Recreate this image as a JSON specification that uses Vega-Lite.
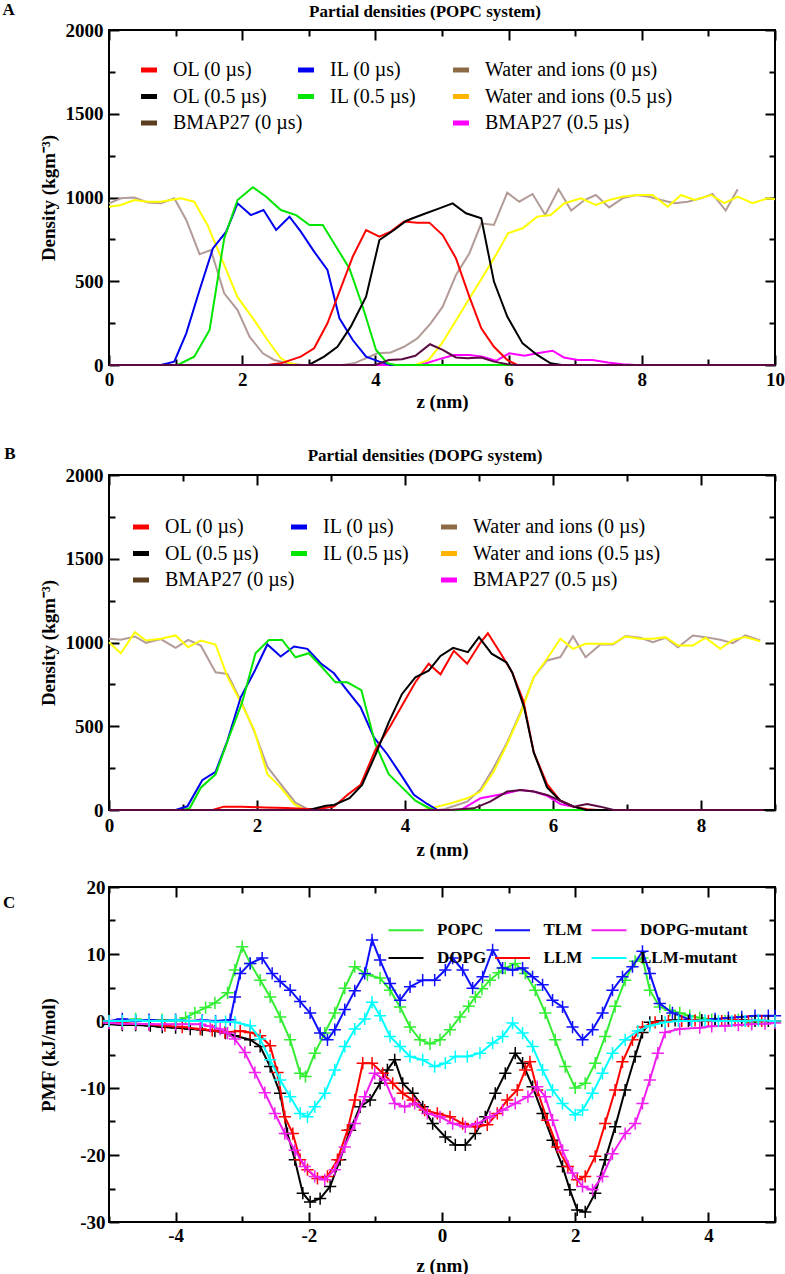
{
"$schema": "https://vega.github.io/schema/vega-lite/v6.json",
"background": "white",
"padding": {"left": 2, "top": 1, "right": 8, "bottom": 0},
"config": {
  "font": "Liberation Serif",
  "view": {"stroke": "black", "strokeWidth": 2},
  "axis": {"domain": false, "grid": false, "labelOverlap": false, "labelFlush": false, "labelFont": "Liberation Serif", "labelFontSize": 19, "labelFontWeight": "bold", "labelColor": "black", "titleFont": "Liberation Serif", "titleFontSize": 19, "titleFontWeight": "bold", "titleColor": "black", "tickColor": "black", "tickWidth": 2},
  "title": {"font": "Liberation Serif", "fontSize": 17, "fontWeight": "bold", "color": "black"},
  "legend": {"labelFont": "Liberation Serif", "labelColor": "black", "labelLimit": 400, "padding": 0, "title": null}
},
"datasets": {
"A_OL0": [{"z":0,"v":0},{"z":2.38,"v":0},{"z":2.58,"v":10},{"z":2.88,"v":50},{"z":3.08,"v":100},{"z":3.28,"v":249},{"z":3.46,"v":438},{"z":3.66,"v":647},{"z":3.86,"v":806},{"z":4.06,"v":766},{"z":4.23,"v":796},{"z":4.43,"v":856},{"z":4.63,"v":850},{"z":4.81,"v":850},{"z":5.01,"v":776},{"z":5.21,"v":637},{"z":5.41,"v":408},{"z":5.59,"v":219},{"z":5.78,"v":109},{"z":5.98,"v":30},{"z":6.13,"v":0},{"z":10,"v":0}],
"A_OL05": [{"z":0,"v":0},{"z":3.0,"v":0},{"z":3.23,"v":50},{"z":3.43,"v":109},{"z":3.63,"v":229},{"z":3.86,"v":408},{"z":4.06,"v":746},{"z":4.28,"v":806},{"z":4.46,"v":860},{"z":4.56,"v":876},{"z":4.76,"v":906},{"z":4.96,"v":935},{"z":5.16,"v":965},{"z":5.36,"v":906},{"z":5.59,"v":876},{"z":5.78,"v":498},{"z":5.98,"v":289},{"z":6.21,"v":129},{"z":6.43,"v":60},{"z":6.63,"v":10},{"z":6.8,"v":0},{"z":10,"v":0}],
"A_BM0": [{"z":0,"v":0},{"z":4.0,"v":0},{"z":4.2,"v":30},{"z":4.4,"v":35},{"z":4.6,"v":55},{"z":4.82,"v":124},{"z":5.01,"v":90},{"z":5.21,"v":45},{"z":5.38,"v":40},{"z":5.59,"v":45},{"z":5.78,"v":20},{"z":5.98,"v":5},{"z":6.1,"v":0},{"z":10,"v":0}],
"A_IL0": [{"z":0,"v":0},{"z":0.78,"v":0},{"z":0.98,"v":20},{"z":1.16,"v":189},{"z":1.36,"v":448},{"z":1.56,"v":696},{"z":1.76,"v":796},{"z":1.93,"v":965},{"z":2.13,"v":895},{"z":2.32,"v":925},{"z":2.51,"v":806},{"z":2.71,"v":885},{"z":2.88,"v":796},{"z":3.08,"v":677},{"z":3.28,"v":567},{"z":3.46,"v":279},{"z":3.66,"v":149},{"z":3.86,"v":50},{"z":4.06,"v":20},{"z":4.23,"v":0},{"z":10,"v":0}],
"A_IL05": [{"z":0,"v":0},{"z":1.03,"v":0},{"z":1.28,"v":50},{"z":1.51,"v":209},{"z":1.73,"v":756},{"z":1.93,"v":985},{"z":2.16,"v":1061},{"z":2.36,"v":1005},{"z":2.58,"v":925},{"z":2.81,"v":895},{"z":3.01,"v":836},{"z":3.21,"v":836},{"z":3.41,"v":706},{"z":3.61,"v":577},{"z":3.81,"v":348},{"z":4.01,"v":90},{"z":4.18,"v":10},{"z":4.3,"v":0},{"z":10,"v":0}],
"A_W0": [{"z":0,"v":965},{"z":0.18,"v":995},{"z":0.38,"v":1000},{"z":0.58,"v":970},{"z":0.78,"v":965},{"z":0.98,"v":995},{"z":1.16,"v":866},{"z":1.36,"v":662},{"z":1.53,"v":686},{"z":1.73,"v":428},{"z":1.93,"v":328},{"z":2.11,"v":169},{"z":2.31,"v":70},{"z":2.48,"v":30},{"z":2.68,"v":10},{"z":2.9,"v":0},{"z":3.5,"v":0},{"z":3.68,"v":10},{"z":4.03,"v":70},{"z":4.23,"v":75},{"z":4.43,"v":109},{"z":4.63,"v":159},{"z":4.83,"v":249},{"z":5.01,"v":348},{"z":5.21,"v":537},{"z":5.41,"v":666},{"z":5.59,"v":846},{"z":5.78,"v":836},{"z":5.98,"v":1029},{"z":6.16,"v":975},{"z":6.36,"v":1021},{"z":6.55,"v":896},{"z":6.75,"v":1049},{"z":6.94,"v":922},{"z":7.14,"v":985},{"z":7.31,"v":1015},{"z":7.51,"v":941},{"z":7.71,"v":995},{"z":7.91,"v":1015},{"z":8.11,"v":1005},{"z":8.29,"v":985},{"z":8.49,"v":966},{"z":8.69,"v":975},{"z":8.89,"v":995},{"z":9.06,"v":1021},{"z":9.26,"v":922},{"z":9.44,"v":1049}],
"A_W05": [{"z":0,"v":945},{"z":0.18,"v":955},{"z":0.38,"v":985},{"z":0.58,"v":975},{"z":0.78,"v":975},{"z":1.08,"v":995},{"z":1.28,"v":975},{"z":1.48,"v":835},{"z":1.68,"v":645},{"z":1.93,"v":405},{"z":2.18,"v":268},{"z":2.38,"v":149},{"z":2.58,"v":40},{"z":2.71,"v":10},{"z":2.85,"v":0},{"z":4.6,"v":0},{"z":4.8,"v":30},{"z":5.0,"v":130},{"z":5.2,"v":260},{"z":5.4,"v":390},{"z":5.6,"v":520},{"z":5.8,"v":650},{"z":5.99,"v":786},{"z":6.21,"v":816},{"z":6.43,"v":886},{"z":6.63,"v":896},{"z":6.84,"v":966},{"z":7.09,"v":995},{"z":7.31,"v":955},{"z":7.51,"v":985},{"z":7.71,"v":1005},{"z":7.93,"v":1015},{"z":8.16,"v":1015},{"z":8.39,"v":945},{"z":8.59,"v":1015},{"z":8.79,"v":985},{"z":9.04,"v":1015},{"z":9.24,"v":966},{"z":9.44,"v":1005},{"z":9.66,"v":966},{"z":9.89,"v":995},{"z":10,"v":990}],
"A_BM05": [{"z":0,"v":0},{"z":4.68,"v":0},{"z":4.96,"v":35},{"z":5.18,"v":60},{"z":5.41,"v":60},{"z":5.61,"v":50},{"z":5.81,"v":25},{"z":6.01,"v":70},{"z":6.24,"v":55},{"z":6.43,"v":70},{"z":6.66,"v":85},{"z":6.83,"v":45},{"z":7.04,"v":30},{"z":7.26,"v":30},{"z":7.49,"v":15},{"z":7.71,"v":5},{"z":7.9,"v":0},{"z":10,"v":0}],
"B_OL0": [{"z":0,"v":0},{"z":1.4,"v":0},{"z":1.55,"v":20},{"z":1.8,"v":20},{"z":2.1,"v":15},{"z":2.4,"v":12},{"z":2.6,"v":8},{"z":2.8,"v":5},{"z":2.95,"v":15},{"z":3.04,"v":20},{"z":3.22,"v":90},{"z":3.4,"v":150},{"z":3.6,"v":360},{"z":3.8,"v":500},{"z":3.96,"v":624},{"z":4.14,"v":763},{"z":4.32,"v":873},{"z":4.48,"v":810},{"z":4.66,"v":950},{"z":4.84,"v":873},{"z":5.02,"v":1000},{"z":5.12,"v":1055},{"z":5.3,"v":930},{"z":5.45,"v":820},{"z":5.6,"v":650},{"z":5.74,"v":344},{"z":5.92,"v":154},{"z":6.1,"v":55},{"z":6.28,"v":20},{"z":6.46,"v":5},{"z":6.6,"v":0},{"z":8.85,"v":0}],
"B_OL05": [{"z":0,"v":0},{"z":2.7,"v":0},{"z":2.93,"v":25},{"z":3.04,"v":30},{"z":3.25,"v":70},{"z":3.42,"v":150},{"z":3.6,"v":329},{"z":3.78,"v":523},{"z":3.96,"v":693},{"z":4.14,"v":792},{"z":4.32,"v":832},{"z":4.48,"v":920},{"z":4.65,"v":968},{"z":4.85,"v":942},{"z":5.0,"v":1032},{"z":5.17,"v":933},{"z":5.37,"v":882},{"z":5.45,"v":820},{"z":5.61,"v":613},{"z":5.74,"v":344},{"z":5.92,"v":135},{"z":6.1,"v":55},{"z":6.28,"v":20},{"z":6.45,"v":0},{"z":8.85,"v":0}],
"B_BM0": [{"z":0,"v":0},{"z":4.6,"v":0},{"z":4.93,"v":10},{"z":5.15,"v":50},{"z":5.38,"v":110},{"z":5.56,"v":120},{"z":5.74,"v":110},{"z":5.92,"v":90},{"z":6.1,"v":55},{"z":6.28,"v":20},{"z":6.46,"v":35},{"z":6.64,"v":20},{"z":6.82,"v":0},{"z":8.85,"v":0}],
"B_IL0": [{"z":0,"v":0},{"z":0.9,"v":0},{"z":1.06,"v":22},{"z":1.26,"v":178},{"z":1.44,"v":228},{"z":1.6,"v":413},{"z":1.78,"v":673},{"z":1.96,"v":822},{"z":2.14,"v":988},{"z":2.32,"v":916},{"z":2.5,"v":976},{"z":2.68,"v":962},{"z":2.86,"v":876},{"z":3.04,"v":816},{"z":3.22,"v":713},{"z":3.4,"v":613},{"z":3.58,"v":433},{"z":3.76,"v":333},{"z":3.94,"v":214},{"z":4.12,"v":91},{"z":4.3,"v":36},{"z":4.44,"v":0},{"z":8.85,"v":0}],
"B_IL05": [{"z":0,"v":0},{"z":1.0,"v":0},{"z":1.09,"v":10},{"z":1.24,"v":133},{"z":1.44,"v":213},{"z":1.62,"v":433},{"z":1.8,"v":643},{"z":1.98,"v":936},{"z":2.16,"v":1015},{"z":2.34,"v":1015},{"z":2.52,"v":912},{"z":2.7,"v":936},{"z":2.88,"v":852},{"z":3.06,"v":762},{"z":3.22,"v":762},{"z":3.41,"v":716},{"z":3.6,"v":393},{"z":3.78,"v":214},{"z":3.96,"v":135},{"z":4.14,"v":56},{"z":4.32,"v":12},{"z":4.4,"v":0},{"z":8.85,"v":0}],
"B_W0": [{"z":0,"v":1022},{"z":0.16,"v":1016},{"z":0.35,"v":1036},{"z":0.5,"v":998},{"z":0.7,"v":1020},{"z":0.9,"v":968},{"z":1.07,"v":1016},{"z":1.24,"v":982},{"z":1.44,"v":822},{"z":1.6,"v":812},{"z":1.78,"v":653},{"z":1.96,"v":473},{"z":2.14,"v":258},{"z":2.34,"v":144},{"z":2.52,"v":44},{"z":2.68,"v":6},{"z":2.8,"v":0},{"z":4.45,"v":0},{"z":4.53,"v":5},{"z":4.84,"v":50},{"z":5.02,"v":122},{"z":5.2,"v":254},{"z":5.38,"v":403},{"z":5.56,"v":583},{"z":5.74,"v":793},{"z":5.92,"v":893},{"z":6.1,"v":913},{"z":6.27,"v":1038},{"z":6.44,"v":912},{"z":6.64,"v":988},{"z":6.81,"v":988},{"z":6.98,"v":1038},{"z":7.18,"v":1028},{"z":7.35,"v":1002},{"z":7.52,"v":1028},{"z":7.69,"v":972},{"z":7.89,"v":1042},{"z":8.06,"v":1032},{"z":8.26,"v":1016},{"z":8.43,"v":996},{"z":8.6,"v":1042},{"z":8.8,"v":1012}],
"B_W05": [{"z":0,"v":1002},{"z":0.16,"v":936},{"z":0.35,"v":1062},{"z":0.5,"v":1012},{"z":0.7,"v":1022},{"z":0.9,"v":1042},{"z":1.07,"v":972},{"z":1.24,"v":1012},{"z":1.44,"v":988},{"z":1.6,"v":796},{"z":1.78,"v":643},{"z":1.96,"v":480},{"z":2.14,"v":214},{"z":2.32,"v":135},{"z":2.5,"v":36},{"z":2.64,"v":0},{"z":4.25,"v":0},{"z":4.44,"v":20},{"z":4.62,"v":40},{"z":4.84,"v":70},{"z":5.02,"v":110},{"z":5.2,"v":230},{"z":5.38,"v":393},{"z":5.56,"v":573},{"z":5.74,"v":793},{"z":5.92,"v":903},{"z":6.1,"v":1022},{"z":6.27,"v":962},{"z":6.44,"v":992},{"z":6.64,"v":992},{"z":6.81,"v":992},{"z":6.98,"v":1036},{"z":7.18,"v":1022},{"z":7.35,"v":1022},{"z":7.52,"v":1032},{"z":7.69,"v":982},{"z":7.89,"v":982},{"z":8.06,"v":1028},{"z":8.26,"v":962},{"z":8.43,"v":1016},{"z":8.6,"v":1032},{"z":8.8,"v":1008}],
"B_BM05": [{"z":0,"v":0},{"z":4.75,"v":0},{"z":5.02,"v":70},{"z":5.2,"v":85},{"z":5.38,"v":100},{"z":5.56,"v":120},{"z":5.74,"v":110},{"z":5.92,"v":85},{"z":6.1,"v":35},{"z":6.28,"v":20},{"z":6.46,"v":0},{"z":8.85,"v":0}],
"C_POPC": [{"z":-5,"v":0},{"z":-4.8,"v":-0.3},{"z":-4.6,"v":0.3},{"z":-4.4,"v":0},{"z":-4.2,"v":0.2},{"z":-4.0,"v":0},{"z":-3.85,"v":0.5},{"z":-3.71,"v":1.2},{"z":-3.55,"v":2},{"z":-3.41,"v":2.7},{"z":-3.22,"v":4.2},{"z":-3.11,"v":7.6},{"z":-3.0,"v":11.1},{"z":-2.88,"v":8.6},{"z":-2.73,"v":6.1},{"z":-2.58,"v":3.6},{"z":-2.43,"v":0.6},{"z":-2.28,"v":-2.8},{"z":-2.13,"v":-7.8},{"z":-2.05,"v":-8.3},{"z":-1.91,"v":-4.8},{"z":-1.76,"v":-1.8},{"z":-1.61,"v":1.2},{"z":-1.46,"v":4.9},{"z":-1.31,"v":8.1},{"z":-1.12,"v":6.9},{"z":-0.93,"v":6.4},{"z":-0.78,"v":4.6},{"z":-0.63,"v":2.1},{"z":-0.48,"v":-0.9},{"z":-0.33,"v":-2.8},{"z":-0.18,"v":-3.4},{"z":-0.03,"v":-2.8},{"z":0.12,"v":-1.3},{"z":0.27,"v":0.6},{"z":0.4,"v":2.2},{"z":0.5,"v":3.6},{"z":0.6,"v":4.8},{"z":0.72,"v":6.1},{"z":0.85,"v":7.2},{"z":0.95,"v":7.9},{"z":1.1,"v":8.6},{"z":1.25,"v":7.1},{"z":1.4,"v":4.6},{"z":1.55,"v":1.2},{"z":1.7,"v":-2.8},{"z":1.85,"v":-6.8},{"z":2.0,"v":-10.0},{"z":2.15,"v":-9.3},{"z":2.3,"v":-6.3},{"z":2.45,"v":-2.3},{"z":2.6,"v":2.2},{"z":2.75,"v":6.1},{"z":2.9,"v":8.9},{"z":3.01,"v":9.4},{"z":3.12,"v":4.6},{"z":3.27,"v":2.1},{"z":3.42,"v":1.6},{"z":3.57,"v":1.2},{"z":3.72,"v":0.8},{"z":3.87,"v":0.5},{"z":4.05,"v":0.2},{"z":4.25,"v":0},{"z":4.45,"v":0.2},{"z":4.65,"v":-0.3},{"z":4.85,"v":0},{"z":5,"v":-0.2}],
"C_TLM": [{"z":-5,"v":0},{"z":-4.8,"v":0.3},{"z":-4.6,"v":0},{"z":-4.4,"v":0.2},{"z":-4.2,"v":0},{"z":-4.0,"v":0.2},{"z":-3.8,"v":0},{"z":-3.6,"v":0.1},{"z":-3.4,"v":0},{"z":-3.18,"v":0.2},{"z":-3.11,"v":3.6},{"z":-3.03,"v":7.1},{"z":-2.88,"v":8.6},{"z":-2.7,"v":9.4},{"z":-2.55,"v":7.1},{"z":-2.43,"v":5.9},{"z":-2.28,"v":4.6},{"z":-2.13,"v":2.9},{"z":-1.98,"v":1.2},{"z":-1.83,"v":-1.8},{"z":-1.72,"v":-2.8},{"z":-1.61,"v":-1.3},{"z":-1.46,"v":1.7},{"z":-1.31,"v":4.5},{"z":-1.16,"v":7.1},{"z":-1.05,"v":12.1},{"z":-0.93,"v":9.1},{"z":-0.78,"v":5.6},{"z":-0.63,"v":3.1},{"z":-0.48,"v":5.1},{"z":-0.29,"v":6.1},{"z":-0.11,"v":6.1},{"z":0.05,"v":7.6},{"z":0.16,"v":9.4},{"z":0.31,"v":7.6},{"z":0.46,"v":4.9},{"z":0.61,"v":6.6},{"z":0.76,"v":10.6},{"z":0.91,"v":7.9},{"z":1.06,"v":7.6},{"z":1.21,"v":7.9},{"z":1.36,"v":6.6},{"z":1.51,"v":5.4},{"z":1.66,"v":3.1},{"z":1.81,"v":2.1},{"z":1.96,"v":-0.9},{"z":2.11,"v":-2.8},{"z":2.26,"v":-1.3},{"z":2.41,"v":1.2},{"z":2.56,"v":4.6},{"z":2.71,"v":6.6},{"z":2.86,"v":8.1},{"z":3.01,"v":10.4},{"z":3.12,"v":7.1},{"z":3.27,"v":2.6},{"z":3.46,"v":1.2},{"z":3.72,"v":0.2},{"z":3.9,"v":0.1},{"z":4.1,"v":0.3},{"z":4.3,"v":0.5},{"z":4.5,"v":0.6},{"z":4.7,"v":0.8},{"z":4.9,"v":0.8},{"z":5,"v":0.8}],
"C_DOPG": [{"z":-5,"v":-0.5},{"z":-4.8,"v":-0.6},{"z":-4.6,"v":-0.6},{"z":-4.38,"v":-0.7},{"z":-4.2,"v":-0.9},{"z":-4.0,"v":-1.0},{"z":-3.78,"v":-1.2},{"z":-3.6,"v":-1.3},{"z":-3.41,"v":-1.5},{"z":-3.25,"v":-1.8},{"z":-3.11,"v":-2.2},{"z":-2.88,"v":-2.8},{"z":-2.73,"v":-3.8},{"z":-2.58,"v":-6.8},{"z":-2.43,"v":-10.8},{"z":-2.32,"v":-16.8},{"z":-2.21,"v":-20.7},{"z":-2.09,"v":-25.7},{"z":-1.98,"v":-27.0},{"z":-1.83,"v":-26.5},{"z":-1.68,"v":-24.7},{"z":-1.53,"v":-20.7},{"z":-1.38,"v":-16.3},{"z":-1.23,"v":-12.8},{"z":-1.08,"v":-11.8},{"z":-0.93,"v":-9.3},{"z":-0.82,"v":-7.3},{"z":-0.71,"v":-5.8},{"z":-0.59,"v":-9.3},{"z":-0.44,"v":-10.8},{"z":-0.29,"v":-12.8},{"z":-0.14,"v":-15.3},{"z":0.05,"v":-17.3},{"z":0.2,"v":-18.5},{"z":0.35,"v":-18.5},{"z":0.5,"v":-16.8},{"z":0.65,"v":-14.3},{"z":0.8,"v":-10.8},{"z":0.95,"v":-7.8},{"z":1.1,"v":-4.8},{"z":1.21,"v":-6.3},{"z":1.36,"v":-9.8},{"z":1.51,"v":-13.8},{"z":1.66,"v":-17.8},{"z":1.81,"v":-21.7},{"z":1.92,"v":-25.2},{"z":2.03,"v":-28.2},{"z":2.15,"v":-28.5},{"z":2.3,"v":-25.7},{"z":2.45,"v":-20.7},{"z":2.6,"v":-15.8},{"z":2.75,"v":-10.3},{"z":2.9,"v":-5.3},{"z":3.01,"v":-1.7},{"z":3.12,"v":-0.2},{"z":3.3,"v":0},{"z":3.5,"v":0.1},{"z":3.7,"v":0},{"z":3.9,"v":0.1},{"z":4.1,"v":0},{"z":4.3,"v":0},{"z":4.5,"v":0.1},{"z":4.7,"v":0},{"z":4.9,"v":0},{"z":5,"v":0}],
"C_LLM": [{"z":-5,"v":-0.2},{"z":-4.8,"v":-0.3},{"z":-4.6,"v":-0.4},{"z":-4.4,"v":-0.5},{"z":-4.16,"v":-0.7},{"z":-3.9,"v":-0.9},{"z":-3.63,"v":-1.2},{"z":-3.45,"v":-1.4},{"z":-3.26,"v":-1.7},{"z":-3.03,"v":-1.5},{"z":-2.88,"v":-1.7},{"z":-2.73,"v":-2.2},{"z":-2.58,"v":-3.7},{"z":-2.47,"v":-7.7},{"z":-2.36,"v":-14.3},{"z":-2.24,"v":-16.8},{"z":-2.13,"v":-20.7},{"z":-2.02,"v":-22.2},{"z":-1.87,"v":-23.5},{"z":-1.72,"v":-23.2},{"z":-1.57,"v":-20.7},{"z":-1.42,"v":-16.3},{"z":-1.31,"v":-11.8},{"z":-1.19,"v":-6.3},{"z":-1.05,"v":-6.3},{"z":-0.89,"v":-7.8},{"z":-0.74,"v":-9.3},{"z":-0.59,"v":-10.8},{"z":-0.44,"v":-11.8},{"z":-0.26,"v":-13.3},{"z":-0.07,"v":-13.8},{"z":0.12,"v":-14.3},{"z":0.31,"v":-15.3},{"z":0.5,"v":-15.8},{"z":0.68,"v":-15.5},{"z":0.83,"v":-13.8},{"z":0.98,"v":-11.8},{"z":1.13,"v":-10.3},{"z":1.25,"v":-7.3},{"z":1.32,"v":-6.1},{"z":1.43,"v":-10.3},{"z":1.58,"v":-14.8},{"z":1.73,"v":-18.8},{"z":1.89,"v":-21.7},{"z":2.03,"v":-23.7},{"z":2.15,"v":-23.2},{"z":2.3,"v":-20.2},{"z":2.45,"v":-15.3},{"z":2.6,"v":-10.3},{"z":2.71,"v":-6.1},{"z":2.86,"v":-2.8},{"z":3.01,"v":-0.9},{"z":3.2,"v":-0.2},{"z":3.4,"v":0},{"z":3.6,"v":0},{"z":3.8,"v":0.1},{"z":4.0,"v":0},{"z":4.2,"v":0},{"z":4.4,"v":0.1},{"z":4.6,"v":0},{"z":4.8,"v":0},{"z":5,"v":0}],
"C_DOPGm": [{"z":-5,"v":-0.3},{"z":-4.8,"v":-0.4},{"z":-4.6,"v":-0.4},{"z":-4.4,"v":-0.5},{"z":-4.2,"v":-0.5},{"z":-4.0,"v":-0.5},{"z":-3.8,"v":-0.5},{"z":-3.63,"v":-0.5},{"z":-3.48,"v":-0.8},{"z":-3.33,"v":-1.2},{"z":-3.22,"v":-1.8},{"z":-3.11,"v":-2.7},{"z":-2.96,"v":-4.7},{"z":-2.81,"v":-7.7},{"z":-2.66,"v":-10.7},{"z":-2.51,"v":-13.8},{"z":-2.36,"v":-16.8},{"z":-2.21,"v":-19.3},{"z":-2.06,"v":-21.7},{"z":-1.91,"v":-23.2},{"z":-1.76,"v":-23.7},{"z":-1.61,"v":-22.2},{"z":-1.46,"v":-18.8},{"z":-1.31,"v":-15.3},{"z":-1.16,"v":-11.3},{"z":-1.01,"v":-7.8},{"z":-0.86,"v":-8.8},{"z":-0.71,"v":-12.3},{"z":-0.56,"v":-12.8},{"z":-0.41,"v":-12.3},{"z":-0.22,"v":-13.8},{"z":-0.03,"v":-14.3},{"z":0.16,"v":-15.3},{"z":0.35,"v":-15.8},{"z":0.53,"v":-15.3},{"z":0.72,"v":-14.3},{"z":0.91,"v":-13.3},{"z":1.1,"v":-12.3},{"z":1.29,"v":-11.3},{"z":1.43,"v":-9.8},{"z":1.55,"v":-11.3},{"z":1.66,"v":-14.8},{"z":1.81,"v":-19.3},{"z":1.96,"v":-22.7},{"z":2.11,"v":-24.7},{"z":2.26,"v":-25.2},{"z":2.41,"v":-23.2},{"z":2.56,"v":-19.8},{"z":2.75,"v":-16.8},{"z":2.9,"v":-15.3},{"z":3.01,"v":-12.3},{"z":3.12,"v":-8.8},{"z":3.24,"v":-4.8},{"z":3.35,"v":-1.7},{"z":3.57,"v":-1.2},{"z":3.87,"v":-1.0},{"z":4.05,"v":-0.8},{"z":4.25,"v":-0.7},{"z":4.45,"v":-0.6},{"z":4.65,"v":-0.5},{"z":4.85,"v":-0.4},{"z":5,"v":-0.3}],
"C_LLMm": [{"z":-5,"v":0},{"z":-4.8,"v":0},{"z":-4.6,"v":0.1},{"z":-4.4,"v":0},{"z":-4.2,"v":0},{"z":-4.0,"v":0.1},{"z":-3.8,"v":0},{"z":-3.6,"v":0},{"z":-3.4,"v":-0.1},{"z":-3.25,"v":-0.1},{"z":-3.11,"v":-0.2},{"z":-2.88,"v":-0.7},{"z":-2.73,"v":-2.7},{"z":-2.58,"v":-5.8},{"z":-2.43,"v":-8.8},{"z":-2.28,"v":-11.3},{"z":-2.13,"v":-13.8},{"z":-2.02,"v":-14.3},{"z":-1.91,"v":-12.8},{"z":-1.76,"v":-10.8},{"z":-1.61,"v":-7.3},{"z":-1.46,"v":-3.8},{"z":-1.31,"v":-1.2},{"z":-1.16,"v":0.3},{"z":-1.05,"v":2.8},{"z":-0.93,"v":0.8},{"z":-0.78,"v":-2.3},{"z":-0.63,"v":-3.8},{"z":-0.48,"v":-5.3},{"z":-0.29,"v":-5.8},{"z":-0.11,"v":-6.8},{"z":0.05,"v":-6.3},{"z":0.2,"v":-5.3},{"z":0.38,"v":-5.3},{"z":0.57,"v":-4.8},{"z":0.76,"v":-3.3},{"z":0.91,"v":-2.3},{"z":1.06,"v":-0.3},{"z":1.21,"v":-1.8},{"z":1.36,"v":-3.8},{"z":1.51,"v":-7.3},{"z":1.66,"v":-10.3},{"z":1.81,"v":-12.3},{"z":2.0,"v":-14.0},{"z":2.11,"v":-13.3},{"z":2.26,"v":-10.8},{"z":2.41,"v":-7.8},{"z":2.56,"v":-4.8},{"z":2.75,"v":-2.8},{"z":2.94,"v":-1.5},{"z":3.12,"v":-0.7},{"z":3.35,"v":-0.2},{"z":3.55,"v":0},{"z":3.75,"v":0},{"z":3.95,"v":0.1},{"z":4.15,"v":0},{"z":4.35,"v":0},{"z":4.55,"v":0},{"z":4.75,"v":0.1},{"z":5,"v":0}]
},
"spacing": 33,
"vconcat": [
{
 "title": {"text": "A", "orient": "left", "anchor": "end", "angle": 0, "align": "right", "baseline": "top", "offset": 11, "fontSize": 17},
 "vconcat": [{
  "title": {"text": "Partial densities (POPC system)", "offset": 0, "dx": -17},
  "width": 666, "height": 335,
  "resolve": {"scale": {"color": "independent"}, "axis": {"x": "independent", "y": "independent"}},
  "layer": [
   {"data": {"name": "A_W0"}, "mark": {"type": "line", "strokeWidth": 2},
    "encoding": {
     "x": {"field": "z", "type": "quantitative", "scale": {"domain": [0, 10]}, "axis": {"orient": "bottom", "values": [0,1,2,3,4,5,6,7,8,9,10], "labelExpr": "datum.value % 2 === 0 ? '' + datum.value : ''", "tickSize": {"condition": {"test": "datum.value % 2 === 0", "value": -10}, "value": -6}, "labelPadding": 15, "title": "z (nm)", "titlePadding": -1}},
     "y": {"field": "v", "type": "quantitative", "scale": {"domain": [0, 2000]}, "axis": {"orient": "left", "values": [0,250,500,750,1000,1250,1500,1750,2000], "labelExpr": "datum.value % 500 === 0 ? '' + datum.value : ''", "tickSize": {"condition": {"test": "datum.value % 500 === 0", "value": -10}, "value": -6}, "labelPadding": 16, "title": "Density (kgm⁻³)", "titlePadding": 7}},
     "color": {"datum": "Water and ions (0 µs)", "scale": {"range": ["#b39b98"]}, "legend": null}
    }},
   {"data": {"name": "A_W05"}, "mark": {"type": "line", "strokeWidth": 2},
    "encoding": {
     "x": {"field": "z", "type": "quantitative", "scale": {"domain": [0, 10]}, "axis": {"orient": "top", "values": [0,1,2,3,4,5,6,7,8,9,10], "labels": false, "title": null, "tickSize": {"condition": {"test": "datum.value % 2 === 0", "value": -10}, "value": -6}}},
     "y": {"field": "v", "type": "quantitative", "scale": {"domain": [0, 2000]}, "axis": {"orient": "right", "values": [0,250,500,750,1000,1250,1500,1750,2000], "labels": false, "title": null, "tickSize": {"condition": {"test": "datum.value % 500 === 0", "value": -10}, "value": -6}}},
     "color": {"datum": "Water and ions (0.5 µs)", "scale": {"range": ["#ffff00"]}, "legend": null}
    }},
   {"data": {"name": "A_BM05"}, "mark": {"type": "line", "strokeWidth": 2},
    "encoding": {"x": {"field": "z", "type": "quantitative", "scale": {"domain": [0, 10]}, "axis": null}, "y": {"field": "v", "type": "quantitative", "scale": {"domain": [0, 2000]}, "axis": null},
     "color": {"datum": "BMAP27 (0.5 µs)", "scale": {"range": ["#ff00ff"]},
       "legend": {"orient": "none", "legendX": 341.5, "legendY": 82.5, "symbolType": "stroke", "symbolStrokeWidth": 5, "symbolSize": 256, "labelFontSize": 20, "labelFontWeight": "normal", "labelOffset": 13.5}}}},
   {"data": {"name": "A_IL0"}, "mark": {"type": "line", "strokeWidth": 2},
    "encoding": {"x": {"field": "z", "type": "quantitative", "scale": {"domain": [0, 10]}, "axis": null}, "y": {"field": "v", "type": "quantitative", "scale": {"domain": [0, 2000]}, "axis": null},
     "color": {"datum": "IL (0 µs)", "scale": {"range": ["#0000f0"]},
       "legend": {"orient": "none", "legendX": 186.5, "legendY": 29.5, "symbolType": "stroke", "symbolStrokeWidth": 5, "symbolSize": 256, "labelFontSize": 20, "labelFontWeight": "normal", "labelOffset": 13.5}}}},
   {"data": {"name": "A_IL05"}, "mark": {"type": "line", "strokeWidth": 2},
    "encoding": {"x": {"field": "z", "type": "quantitative", "scale": {"domain": [0, 10]}, "axis": null}, "y": {"field": "v", "type": "quantitative", "scale": {"domain": [0, 2000]}, "axis": null},
     "color": {"datum": "IL (0.5 µs)", "scale": {"range": ["#00e600"]},
       "legend": {"orient": "none", "legendX": 186.5, "legendY": 56, "symbolType": "stroke", "symbolStrokeWidth": 5, "symbolSize": 256, "labelFontSize": 20, "labelFontWeight": "normal", "labelOffset": 13.5}}}},
   {"data": {"name": "A_OL0"}, "mark": {"type": "line", "strokeWidth": 2},
    "encoding": {"x": {"field": "z", "type": "quantitative", "scale": {"domain": [0, 10]}, "axis": null}, "y": {"field": "v", "type": "quantitative", "scale": {"domain": [0, 2000]}, "axis": null},
     "color": {"datum": "OL (0 µs)", "scale": {"range": ["#ff0000"]},
       "legend": {"orient": "none", "legendX": 29.5, "legendY": 29.5, "symbolType": "stroke", "symbolStrokeWidth": 5, "symbolSize": 256, "labelFontSize": 20, "labelFontWeight": "normal", "labelOffset": 13.5}}}},
   {"data": {"name": "A_OL05"}, "mark": {"type": "line", "strokeWidth": 2},
    "encoding": {"x": {"field": "z", "type": "quantitative", "scale": {"domain": [0, 10]}, "axis": null}, "y": {"field": "v", "type": "quantitative", "scale": {"domain": [0, 2000]}, "axis": null},
     "color": {"datum": "OL (0.5 µs)", "scale": {"range": ["#000000"]},
       "legend": {"orient": "none", "legendX": 29.5, "legendY": 56, "symbolType": "stroke", "symbolStrokeWidth": 5, "symbolSize": 256, "labelFontSize": 20, "labelFontWeight": "normal", "labelOffset": 13.5}}}},
   {"data": {"name": "A_BM0"}, "mark": {"type": "line", "strokeWidth": 2},
    "encoding": {"x": {"field": "z", "type": "quantitative", "scale": {"domain": [0, 10]}, "axis": null}, "y": {"field": "v", "type": "quantitative", "scale": {"domain": [0, 2000]}, "axis": null},
     "color": {"datum": "BMAP27 (0 µs)", "scale": {"range": ["#5a0a40"]}, "legend": null}}},
   {"data": {"values": []}, "mark": {"type": "line", "strokeWidth": 2},
    "encoding": {"x": {"field": "z", "type": "quantitative", "scale": {"domain": [0, 10]}, "axis": null}, "y": {"field": "v", "type": "quantitative", "scale": {"domain": [0, 2000]}, "axis": null},
     "color": {"datum": "BMAP27 (0 µs)", "scale": {"range": ["#5c3d1e"]},
       "legend": {"orient": "none", "legendX": 29.5, "legendY": 82.5, "symbolType": "stroke", "symbolStrokeWidth": 5, "symbolSize": 256, "labelFontSize": 20, "labelFontWeight": "normal", "labelOffset": 13.5}}}},
   {"data": {"values": []}, "mark": {"type": "line", "strokeWidth": 2},
    "encoding": {"x": {"field": "z", "type": "quantitative", "scale": {"domain": [0, 10]}, "axis": null}, "y": {"field": "v", "type": "quantitative", "scale": {"domain": [0, 2000]}, "axis": null},
     "color": {"datum": "Water and ions (0 µs)", "scale": {"range": ["#8b6a45"]},
       "legend": {"orient": "none", "legendX": 341.5, "legendY": 29.5, "symbolType": "stroke", "symbolStrokeWidth": 5, "symbolSize": 256, "labelFontSize": 20, "labelFontWeight": "normal", "labelOffset": 13.5}}}},
   {"data": {"values": []}, "mark": {"type": "line", "strokeWidth": 2},
    "encoding": {"x": {"field": "z", "type": "quantitative", "scale": {"domain": [0, 10]}, "axis": null}, "y": {"field": "v", "type": "quantitative", "scale": {"domain": [0, 2000]}, "axis": null},
     "color": {"datum": "Water and ions (0.5 µs)", "scale": {"range": ["#ffb400"]},
       "legend": {"orient": "none", "legendX": 341.5, "legendY": 56, "symbolType": "stroke", "symbolStrokeWidth": 5, "symbolSize": 256, "labelFontSize": 20, "labelFontWeight": "normal", "labelOffset": 13.5}}}}
  ]
 }]
},
{
 "spacing": 17,
 "vconcat": [
 {
  "title": {"text": "B", "orient": "left", "anchor": "end", "angle": 0, "align": "right", "baseline": "top", "offset": 11, "fontSize": 17},
  "vconcat": [{
   "title": {"text": "Partial densities (DOPG system)", "offset": 1, "dx": -17},
   "width": 666, "height": 335,
   "resolve": {"scale": {"color": "independent"}, "axis": {"x": "independent", "y": "independent"}},
   "layer": [
    {"data": {"name": "B_W0"}, "mark": {"type": "line", "strokeWidth": 2},
     "encoding": {
      "x": {"field": "z", "type": "quantitative", "scale": {"domain": [0, 9]}, "axis": {"orient": "bottom", "values": [0,1,2,3,4,5,6,7,8,9], "labelExpr": "datum.value % 2 === 0 ? '' + datum.value : ''", "tickSize": {"condition": {"test": "datum.value % 2 === 0", "value": -10}, "value": -6}, "labelPadding": 16, "title": "z (nm)", "titlePadding": 1}},
      "y": {"field": "v", "type": "quantitative", "scale": {"domain": [0, 2000]}, "axis": {"orient": "left", "values": [0,250,500,750,1000,1250,1500,1750,2000], "labelExpr": "datum.value % 500 === 0 ? '' + datum.value : ''", "tickSize": {"condition": {"test": "datum.value % 500 === 0", "value": -10}, "value": -6}, "labelPadding": 16, "title": "Density (kgm⁻³)", "titlePadding": 7}},
      "color": {"datum": "Water and ions (0 µs)", "scale": {"range": ["#b39b98"]}, "legend": null}
     }},
    {"data": {"name": "B_W05"}, "mark": {"type": "line", "strokeWidth": 2},
     "encoding": {
      "x": {"field": "z", "type": "quantitative", "scale": {"domain": [0, 9]}, "axis": {"orient": "top", "values": [0,1,2,3,4,5,6,7,8,9], "labels": false, "title": null, "tickSize": {"condition": {"test": "datum.value % 2 === 0", "value": -10}, "value": -6}}},
      "y": {"field": "v", "type": "quantitative", "scale": {"domain": [0, 2000]}, "axis": {"orient": "right", "values": [0,250,500,750,1000,1250,1500,1750,2000], "labels": false, "title": null, "tickSize": {"condition": {"test": "datum.value % 500 === 0", "value": -10}, "value": -6}}},
      "color": {"datum": "Water and ions (0.5 µs)", "scale": {"range": ["#ffff00"]}, "legend": null}
     }},
    {"data": {"name": "B_BM05"}, "mark": {"type": "line", "strokeWidth": 2},
     "encoding": {"x": {"field": "z", "type": "quantitative", "scale": {"domain": [0, 9]}, "axis": null}, "y": {"field": "v", "type": "quantitative", "scale": {"domain": [0, 2000]}, "axis": null},
      "color": {"datum": "BMAP27 (0.5 µs)", "scale": {"range": ["#ff00ff"]},
        "legend": {"orient": "none", "legendX": 329.5, "legendY": 94.5, "symbolType": "stroke", "symbolStrokeWidth": 5, "symbolSize": 256, "labelFontSize": 20, "labelFontWeight": "normal", "labelOffset": 13.5}}}},
    {"data": {"name": "B_IL0"}, "mark": {"type": "line", "strokeWidth": 2},
     "encoding": {"x": {"field": "z", "type": "quantitative", "scale": {"domain": [0, 9]}, "axis": null}, "y": {"field": "v", "type": "quantitative", "scale": {"domain": [0, 2000]}, "axis": null},
      "color": {"datum": "IL (0 µs)", "scale": {"range": ["#0000f0"]},
        "legend": {"orient": "none", "legendX": 179.5, "legendY": 41.5, "symbolType": "stroke", "symbolStrokeWidth": 5, "symbolSize": 256, "labelFontSize": 20, "labelFontWeight": "normal", "labelOffset": 13.5}}}},
    {"data": {"name": "B_IL05"}, "mark": {"type": "line", "strokeWidth": 2},
     "encoding": {"x": {"field": "z", "type": "quantitative", "scale": {"domain": [0, 9]}, "axis": null}, "y": {"field": "v", "type": "quantitative", "scale": {"domain": [0, 2000]}, "axis": null},
      "color": {"datum": "IL (0.5 µs)", "scale": {"range": ["#00e600"]},
        "legend": {"orient": "none", "legendX": 179.5, "legendY": 68, "symbolType": "stroke", "symbolStrokeWidth": 5, "symbolSize": 256, "labelFontSize": 20, "labelFontWeight": "normal", "labelOffset": 13.5}}}},
    {"data": {"name": "B_OL0"}, "mark": {"type": "line", "strokeWidth": 2},
     "encoding": {"x": {"field": "z", "type": "quantitative", "scale": {"domain": [0, 9]}, "axis": null}, "y": {"field": "v", "type": "quantitative", "scale": {"domain": [0, 2000]}, "axis": null},
      "color": {"datum": "OL (0 µs)", "scale": {"range": ["#ff0000"]},
        "legend": {"orient": "none", "legendX": 21.5, "legendY": 41.5, "symbolType": "stroke", "symbolStrokeWidth": 5, "symbolSize": 256, "labelFontSize": 20, "labelFontWeight": "normal", "labelOffset": 13.5}}}},
    {"data": {"name": "B_OL05"}, "mark": {"type": "line", "strokeWidth": 2},
     "encoding": {"x": {"field": "z", "type": "quantitative", "scale": {"domain": [0, 9]}, "axis": null}, "y": {"field": "v", "type": "quantitative", "scale": {"domain": [0, 2000]}, "axis": null},
      "color": {"datum": "OL (0.5 µs)", "scale": {"range": ["#000000"]},
        "legend": {"orient": "none", "legendX": 21.5, "legendY": 68, "symbolType": "stroke", "symbolStrokeWidth": 5, "symbolSize": 256, "labelFontSize": 20, "labelFontWeight": "normal", "labelOffset": 13.5}}}},
    {"data": {"name": "B_BM0"}, "mark": {"type": "line", "strokeWidth": 2},
     "encoding": {"x": {"field": "z", "type": "quantitative", "scale": {"domain": [0, 9]}, "axis": null}, "y": {"field": "v", "type": "quantitative", "scale": {"domain": [0, 2000]}, "axis": null},
      "color": {"datum": "BMAP27 (0 µs)", "scale": {"range": ["#5a0a40"]}, "legend": null}}},
    {"data": {"values": []}, "mark": {"type": "line", "strokeWidth": 2},
     "encoding": {"x": {"field": "z", "type": "quantitative", "scale": {"domain": [0, 9]}, "axis": null}, "y": {"field": "v", "type": "quantitative", "scale": {"domain": [0, 2000]}, "axis": null},
      "color": {"datum": "BMAP27 (0 µs)", "scale": {"range": ["#5c3d1e"]},
        "legend": {"orient": "none", "legendX": 21.5, "legendY": 94.5, "symbolType": "stroke", "symbolStrokeWidth": 5, "symbolSize": 256, "labelFontSize": 20, "labelFontWeight": "normal", "labelOffset": 13.5}}}},
    {"data": {"values": []}, "mark": {"type": "line", "strokeWidth": 2},
     "encoding": {"x": {"field": "z", "type": "quantitative", "scale": {"domain": [0, 9]}, "axis": null}, "y": {"field": "v", "type": "quantitative", "scale": {"domain": [0, 2000]}, "axis": null},
      "color": {"datum": "Water and ions (0 µs)", "scale": {"range": ["#8b6a45"]},
        "legend": {"orient": "none", "legendX": 329.5, "legendY": 41.5, "symbolType": "stroke", "symbolStrokeWidth": 5, "symbolSize": 256, "labelFontSize": 20, "labelFontWeight": "normal", "labelOffset": 13.5}}}},
    {"data": {"values": []}, "mark": {"type": "line", "strokeWidth": 2},
     "encoding": {"x": {"field": "z", "type": "quantitative", "scale": {"domain": [0, 9]}, "axis": null}, "y": {"field": "v", "type": "quantitative", "scale": {"domain": [0, 2000]}, "axis": null},
      "color": {"datum": "Water and ions (0.5 µs)", "scale": {"range": ["#ffb400"]},
        "legend": {"orient": "none", "legendX": 329.5, "legendY": 68, "symbolType": "stroke", "symbolStrokeWidth": 5, "symbolSize": 256, "labelFontSize": 20, "labelFontWeight": "normal", "labelOffset": 13.5}}}}
   ]
  }]
 },
 {
  "title": {"text": "C", "orient": "left", "anchor": "end", "angle": 0, "align": "right", "baseline": "top", "offset": 11, "fontSize": 17, "dy": 18},
  "vconcat": [{
   "width": 666, "height": 335,
   "resolve": {"axis": {"x": "independent", "y": "independent"}},
   "layer": [
    {"data": {"name": "C_POPC"}, "mark": {"type": "line", "strokeWidth": 2, "point": {"shape": "M-1,0H1M0,-1V1", "filled": false, "size": 150, "strokeWidth": 1.5}},
     "encoding": {
      "x": {"field": "z", "type": "quantitative", "scale": {"domain": [-5, 5]}, "axis": {"orient": "bottom", "values": [-5,-4,-3,-2,-1,0,1,2,3,4,5], "labelExpr": "datum.value % 2 === 0 ? '' + datum.value : ''", "tickSize": {"condition": {"test": "datum.value % 2 === 0", "value": -10}, "value": -6}, "labelPadding": 14, "title": "z (nm)", "titlePadding": 7}},
      "y": {"field": "v", "type": "quantitative", "scale": {"domain": [-30, 20]}, "axis": {"orient": "left", "values": [-30,-25,-20,-15,-10,-5,0,5,10,15,20], "labelExpr": "datum.value % 10 === 0 ? '' + datum.value : ''", "tickSize": {"condition": {"test": "datum.value % 10 === 0", "value": -10}, "value": -6}, "labelPadding": 14, "title": "PMF (kJ/mol)", "titlePadding": 21}},
      "color": {"datum": "POPC", "scale": {"domain": ["POPC", "DOPG", "TLM", "LLM", "DOPG-mutant", "LLM-mutant"], "range": ["#33ee33", "#000000", "#1010ff", "#ff0000", "#f020f0", "#00ffff"]},
        "legend": {"orient": "none", "legendX": 288.5, "legendY": 891.5, "columns": 3, "symbolType": "M-2.5,0H2.5", "symbolStrokeWidth": 2, "symbolSize": 196, "labelFontSize": 17, "labelFontWeight": "bold", "labelOffset": 22.5, "rowPadding": 10, "columnPadding": 4.5}}
     }},
    {"data": {"name": "C_TLM"}, "mark": {"type": "line", "strokeWidth": 2, "point": {"shape": "M-1,0H1M0,-1V1", "filled": false, "size": 150, "strokeWidth": 1.5}},
     "encoding": {
      "x": {"field": "z", "type": "quantitative", "scale": {"domain": [-5, 5]}, "axis": {"orient": "top", "values": [-5,-4,-3,-2,-1,0,1,2,3,4,5], "labels": false, "title": null, "tickSize": {"condition": {"test": "datum.value % 2 === 0", "value": -10}, "value": -6}}},
      "y": {"field": "v", "type": "quantitative", "scale": {"domain": [-30, 20]}, "axis": {"orient": "right", "values": [-30,-25,-20,-15,-10,-5,0,5,10,15,20], "labels": false, "title": null, "tickSize": {"condition": {"test": "datum.value % 10 === 0", "value": -10}, "value": -6}}},
      "color": {"datum": "TLM"}
     }},
    {"data": {"name": "C_DOPG"}, "mark": {"type": "line", "strokeWidth": 2, "point": {"shape": "M-1,0H1M0,-1V1", "filled": false, "size": 150, "strokeWidth": 1.5}},
     "encoding": {"x": {"field": "z", "type": "quantitative", "scale": {"domain": [-5, 5]}, "axis": null}, "y": {"field": "v", "type": "quantitative", "scale": {"domain": [-30, 20]}, "axis": null}, "color": {"datum": "DOPG"}}},
    {"data": {"name": "C_LLM"}, "mark": {"type": "line", "strokeWidth": 2, "point": {"shape": "M-1,0H1M0,-1V1", "filled": false, "size": 150, "strokeWidth": 1.5}},
     "encoding": {"x": {"field": "z", "type": "quantitative", "scale": {"domain": [-5, 5]}, "axis": null}, "y": {"field": "v", "type": "quantitative", "scale": {"domain": [-30, 20]}, "axis": null}, "color": {"datum": "LLM"}}},
    {"data": {"name": "C_DOPGm"}, "mark": {"type": "line", "strokeWidth": 2, "point": {"shape": "M-1,0H1M0,-1V1", "filled": false, "size": 150, "strokeWidth": 1.5}},
     "encoding": {"x": {"field": "z", "type": "quantitative", "scale": {"domain": [-5, 5]}, "axis": null}, "y": {"field": "v", "type": "quantitative", "scale": {"domain": [-30, 20]}, "axis": null}, "color": {"datum": "DOPG-mutant"}}},
    {"data": {"name": "C_LLMm"}, "mark": {"type": "line", "strokeWidth": 2, "point": {"shape": "M-1,0H1M0,-1V1", "filled": false, "size": 150, "strokeWidth": 1.5}},
     "encoding": {"x": {"field": "z", "type": "quantitative", "scale": {"domain": [-5, 5]}, "axis": null}, "y": {"field": "v", "type": "quantitative", "scale": {"domain": [-30, 20]}, "axis": null}, "color": {"datum": "LLM-mutant"}}}
   ]
  }]
 }
 ]
}
]
}
